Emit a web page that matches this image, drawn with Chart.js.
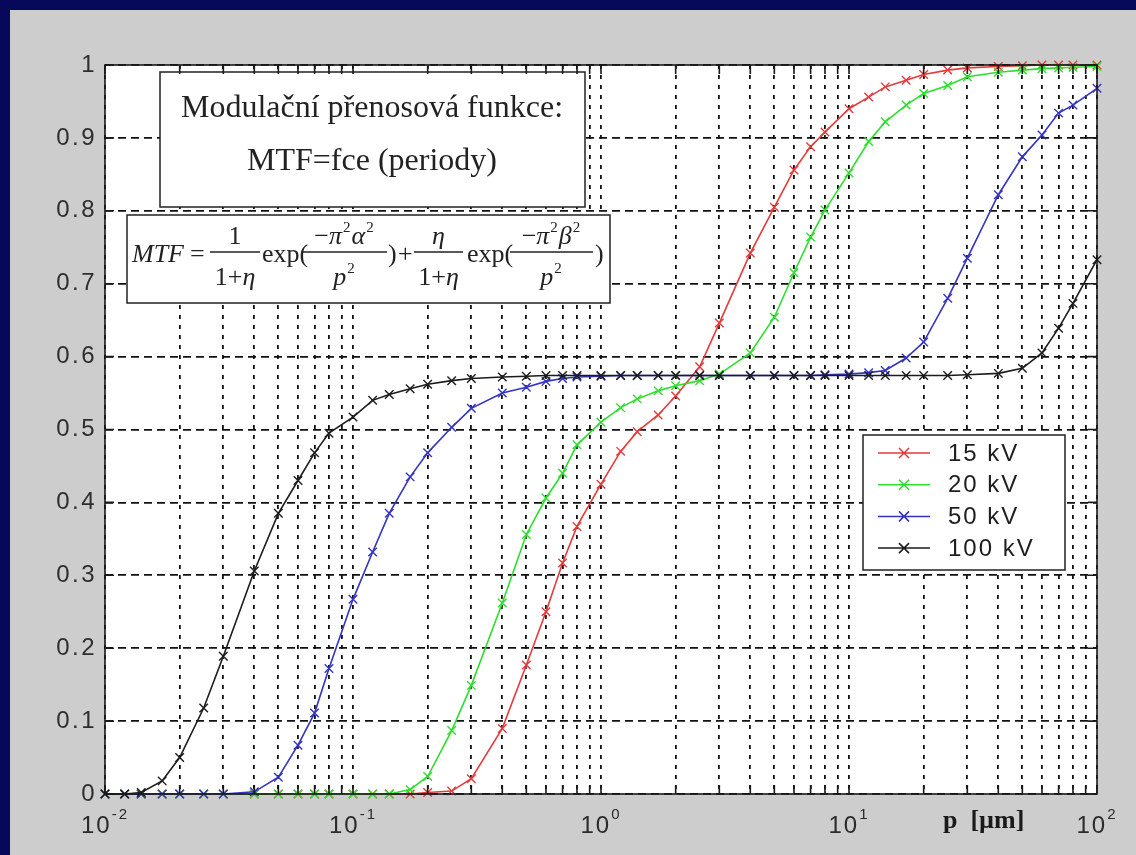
<!DOCTYPE html>
<html lang="cs">
<head>
    <meta charset="UTF-8">
    <title>Modulační přenosová funkce</title>
    <style>
        html, body {
            margin: 0;
            padding: 0;
            width: 1136px;
            height: 855px;
            overflow: hidden;
            background: #08085a;
        }

        .panel {
            position: absolute;
            left: 10px;
            top: 10px;
            width: 1126px;
            height: 845px;
            background: #cdcdcd;
        }

        canvas {
            display: block;
        }
    </style>
</head>
<body>
    <div class="panel">
        <canvas id="mtfChart" width="1126" height="845"></canvas>
    </div>

    <script src="https://cdn.jsdelivr.net/npm/chart.js"></script>
    <script>
        // period p [um], same grid for all curves
        const p = [
            0.01, 0.012, 0.014, 0.017, 0.02, 0.025, 0.03, 0.04, 0.05, 0.06, 0.07, 0.08,
            0.1, 0.12, 0.14, 0.17, 0.2, 0.25, 0.3, 0.4, 0.5, 0.6, 0.7, 0.8,
            1, 1.2, 1.4, 1.7, 2, 2.5, 3, 4, 5, 6, 7, 8,
            10, 12, 14, 17, 20, 25, 30, 40, 50, 60, 70, 80,
            100
        ];

        const mtf15 = [
            0, 0, 0, 0, 0, 0, 0, 0, 0, 0, 0, 0,
            0, 0, 0, 0, 0.002, 0.004, 0.021, 0.09, 0.177, 0.25, 0.317, 0.367,
            0.425, 0.47, 0.497, 0.52, 0.546, 0.586, 0.646, 0.742, 0.805, 0.856, 0.888, 0.908,
            0.94, 0.956, 0.97, 0.979, 0.987, 0.993, 0.996, 0.998, 0.999, 1, 1, 1,
            1
        ];

        const mtf20 = [
            0, 0, 0, 0, 0, 0, 0, 0, 0, 0, 0, 0,
            0, 0, 0, 0.006, 0.024, 0.087, 0.149, 0.262, 0.356, 0.406, 0.44, 0.479,
            0.51, 0.53, 0.542, 0.553, 0.56, 0.567, 0.576, 0.605, 0.654, 0.715, 0.764, 0.801,
            0.852, 0.895, 0.922, 0.945, 0.961, 0.972, 0.984, 0.99, 0.993, 0.995, 0.996, 0.997,
            0.998
        ];

        const mtf50 = [
            0, 0, 0, 0, 0, 0, 0, 0.003, 0.023, 0.067, 0.111, 0.172,
            0.267, 0.332, 0.385, 0.435, 0.468, 0.503, 0.529, 0.55, 0.558, 0.566, 0.57, 0.572,
            0.573, 0.574, 0.574, 0.574, 0.574, 0.574, 0.574, 0.574, 0.574, 0.574, 0.574, 0.575,
            0.576, 0.578, 0.581, 0.598, 0.62, 0.68, 0.735, 0.822, 0.874, 0.904, 0.934, 0.945,
            0.968
        ];

        const mtf100 = [
            0, 0, 0.002, 0.018, 0.05, 0.118, 0.189, 0.306, 0.385, 0.43, 0.468, 0.495,
            0.517, 0.54, 0.548, 0.556, 0.562, 0.567, 0.57, 0.572, 0.573, 0.574, 0.574, 0.574,
            0.574, 0.574, 0.574, 0.574, 0.574, 0.574, 0.574, 0.574, 0.574, 0.574, 0.574, 0.574,
            0.574, 0.574, 0.574, 0.574, 0.574, 0.574, 0.575, 0.577, 0.584, 0.605, 0.639, 0.673,
            0.733
        ];

        const seriesLabels = ['15 kV', '20 kV', '50 kV', '100 kV'];
        const seriesColors = ['#e33b3b', '#2ede2e', '#3434c2', '#1c1c1c'];

        const yTickValues = [0, 0.1, 0.2, 0.3, 0.4, 0.5, 0.6, 0.7, 0.8, 0.9, 1];
        const yTickLabels = ['0', '0.1', '0.2', '0.3', '0.4', '0.5', '0.6', '0.7', '0.8', '0.9', '1'];
        const xTickValues = [0.01, 0.1, 1, 10, 100];
        const xTickExponents = ['-2', '-1', '0', '1', '2'];

        const SANS = "'Liberation Sans', Arial, sans-serif";
        const SERIF = "'Liberation Serif', 'Times New Roman', serif";

        // log grid: 1..9 in every decade
        const xGridValues = [];
        for (let e = -2; e < 2; e++) {
            for (let m = 1; m < 10; m++) xGridValues.push(+(m * Math.pow(10, e)).toPrecision(3));
        }
        xGridValues.push(100);

        // --- formula helpers (runs: [text, italic, superscript]) ---
        function runFont(r) {
            return (r[1] ? 'italic ' : '') + (r[2] ? 15 : 26) + 'px ' + SERIF;
        }

        function measureRuns(ctx, runs) {
            let w = 0;
            runs.forEach(r => {
                ctx.font = runFont(r);
                w += ctx.measureText(r[0]).width + (r[2] ? 2 : 0);
            });
            return w;
        }

        function drawRuns(ctx, runs, x, base) {
            runs.forEach(r => {
                ctx.font = runFont(r);
                if (r[2]) x += 1;
                ctx.fillText(r[0], x, r[2] ? base - 12 : base);
                x += ctx.measureText(r[0]).width + (r[2] ? 1 : 0);
            });
            return x;
        }

        function drawFrac(ctx, num, den, x0, x1, barY) {
            const cx = (x0 + x1) / 2;
            drawRuns(ctx, num, cx - measureRuns(ctx, num) / 2, barY - 8);
            drawRuns(ctx, den, cx - measureRuns(ctx, den) / 2, barY + 33);
            ctx.beginPath();
            ctx.moveTo(x0, barY);
            ctx.lineTo(x1, barY);
            ctx.lineWidth = 1.3;
            ctx.stroke();
        }

        function whiteBox(ctx, x, y, w, h) {
            ctx.fillStyle = '#fff';
            ctx.fillRect(x, y, w, h);
            ctx.strokeStyle = '#222';
            ctx.lineWidth = 1.5;
            ctx.strokeRect(x, y, w, h);
        }

        const decorPlugin = {
            id: 'decor',
            beforeDraw(chart) {
                const { ctx, chartArea: a } = chart;
                ctx.save();
                ctx.fillStyle = '#fff';
                ctx.fillRect(a.left, a.top, a.right - a.left, a.bottom - a.top);
                ctx.restore();
                ctx.letterSpacing = '2.5px';
            },
            afterDatasetsDraw(chart) {
                const { ctx, chartArea: a } = chart;
                const xs = chart.scales.x;
                const ys = chart.scales.y;

                ctx.save();
                ctx.letterSpacing = '0px';

                // title box
                whiteBox(ctx, 150, 62, 425, 135);
                ctx.fillStyle = '#222';
                ctx.font = '32px ' + SERIF;
                ctx.textAlign = 'center';
                ctx.textBaseline = 'alphabetic';
                ctx.fillText('Modulační přenosová funkce:', 362, 107);
                ctx.fillText('MTF=fce (periody)', 362, 160);

                // formula box
                whiteBox(ctx, 117, 205, 483, 88);
                ctx.fillStyle = '#222';
                ctx.strokeStyle = '#222';
                ctx.textAlign = 'left';
                const base = 252, bar = 242;
                drawRuns(ctx, [['MTF', true, false]], 122, base);
                drawRuns(ctx, [['=', false, false]], 180, base);
                drawFrac(ctx, [['1', false, false]],
                    [['1+', false, false], ['η', true, false]], 200, 250, bar);
                drawRuns(ctx, [['exp(', false, false]], 252, base);
                drawFrac(ctx,
                    [['−', false, false], ['π', true, false], ['2', false, true], ['α', true, false], ['2', false, true]],
                    [['p', true, false], ['2', false, true]], 292, 377, bar);
                drawRuns(ctx, [[')', false, false]], 378, base);
                drawRuns(ctx, [['+', false, false]], 388, base);
                drawFrac(ctx, [['η', true, false]],
                    [['1+', false, false], ['η', true, false]], 404, 453, bar);
                drawRuns(ctx, [['exp(', false, false]], 457, base);
                drawFrac(ctx,
                    [['−', false, false], ['π', true, false], ['2', false, true], ['β', true, false], ['2', false, true]],
                    [['p', true, false], ['2', false, true]], 500, 583, bar);
                drawRuns(ctx, [[')', false, false]], 585, base);

                // legend
                whiteBox(ctx, 853, 425, 202, 135);
                seriesLabels.forEach((lab, i) => {
                    const y = 443 + i * 31.7;
                    ctx.strokeStyle = seriesColors[i];
                    ctx.lineWidth = 1.5;
                    ctx.beginPath();
                    ctx.moveTo(868, y);
                    ctx.lineTo(920, y);
                    ctx.moveTo(889, y - 5);
                    ctx.lineTo(899, y + 5);
                    ctx.moveTo(889, y + 5);
                    ctx.lineTo(899, y - 5);
                    ctx.stroke();
                    ctx.fillStyle = '#1e1e1e';
                    ctx.font = '24px ' + SANS;
                    ctx.letterSpacing = '2px';
                    ctx.textBaseline = 'middle';
                    ctx.fillText(lab, 938, y + 1);
                });

                // frame and inner tick marks
                ctx.strokeStyle = '#1a1a1a';
                ctx.lineWidth = 1.6;
                ctx.strokeRect(a.left, a.top, a.right - a.left, a.bottom - a.top);
                ctx.beginPath();
                xGridValues.forEach(v => {
                    const px = xs.getPixelForValue(v);
                    ctx.moveTo(px, a.top);
                    ctx.lineTo(px, a.top + 9);
                    ctx.moveTo(px, a.bottom);
                    ctx.lineTo(px, a.bottom - 9);
                });
                yTickValues.forEach(v => {
                    const py = ys.getPixelForValue(v);
                    ctx.moveTo(a.left, py);
                    ctx.lineTo(a.left + 9, py);
                    ctx.moveTo(a.right, py);
                    ctx.lineTo(a.right - 9, py);
                });
                ctx.stroke();

                // x tick labels 10^n
                ctx.fillStyle = '#2a2a2a';
                ctx.textBaseline = 'alphabetic';
                ctx.letterSpacing = '2px';
                xTickValues.forEach((v, i) => {
                    const px = xs.getPixelForValue(v);
                    ctx.font = '24px ' + SANS;
                    const w1 = ctx.measureText('10').width;
                    ctx.font = '15px ' + SANS;
                    const w2 = ctx.measureText(xTickExponents[i]).width;
                    const x0 = px - (w1 + w2) / 2;
                    ctx.font = '24px ' + SANS;
                    ctx.fillText('10', x0, 823);
                    ctx.font = '15px ' + SANS;
                    ctx.fillText(xTickExponents[i], x0 + w1, 809);
                });

                // axis title
                ctx.letterSpacing = '0px';
                ctx.font = 'bold 26px ' + SERIF;
                ctx.fillStyle = '#1a1a1a';
                ctx.fillText('p  [µm]', 933, 818);

                ctx.restore();
            },
            afterDraw(chart) {
                chart.ctx.letterSpacing = '0px';
            }
        };

        const series = [mtf15, mtf20, mtf50, mtf100];

        const mtfChart = new Chart(document.getElementById('mtfChart'), {
            type: 'line',
            data: {
                datasets: series.map((vals, i) => ({
                    label: seriesLabels[i],
                    data: p.map((x, j) => ({ x: x, y: vals[j] })),
                    borderColor: seriesColors[i],
                    backgroundColor: seriesColors[i],
                    borderWidth: 1.6,
                    pointStyle: 'crossRot',
                    pointRadius: 6,
                    pointBorderWidth: 1.4,
                    pointBorderColor: seriesColors[i],
                    tension: 0,
                    fill: false,
                    clip: false,
                    order: 4 - i
                }))
            },
            options: {
                responsive: false,
                animation: false,
                layout: {
                    padding: { top: 55, right: 39, bottom: 0, left: 0 }
                },
                plugins: {
                    legend: { display: false },
                    tooltip: { enabled: false }
                },
                scales: {
                    x: {
                        type: 'logarithmic',
                        min: 0.01,
                        max: 100,
                        afterFit: s => { s.height = 61; },
                        afterBuildTicks: s => { s.ticks = xGridValues.map(v => ({ value: v })); },
                        ticks: { display: false },
                        grid: { color: '#111', lineWidth: 1.8, drawTicks: false, borderDash: [4, 6] },
                        border: { display: false, dash: [4, 6] }
                    },
                    y: {
                        min: 0,
                        max: 1,
                        afterFit: s => { s.width = 95; },
                        afterBuildTicks: s => { s.ticks = yTickValues.map(v => ({ value: v })); },
                        ticks: {
                            callback: (v, i) => yTickLabels[i],
                            font: { family: SANS, size: 24 },
                            color: '#2e2e2e',
                            padding: 8,
                            autoSkip: false
                        },
                        grid: { color: '#111', lineWidth: 1.8, drawTicks: false, borderDash: [8, 5] },
                        border: { display: false, dash: [8, 5] }
                    }
                }
            },
            plugins: [decorPlugin]
        });
    </script>
</body>
</html>
